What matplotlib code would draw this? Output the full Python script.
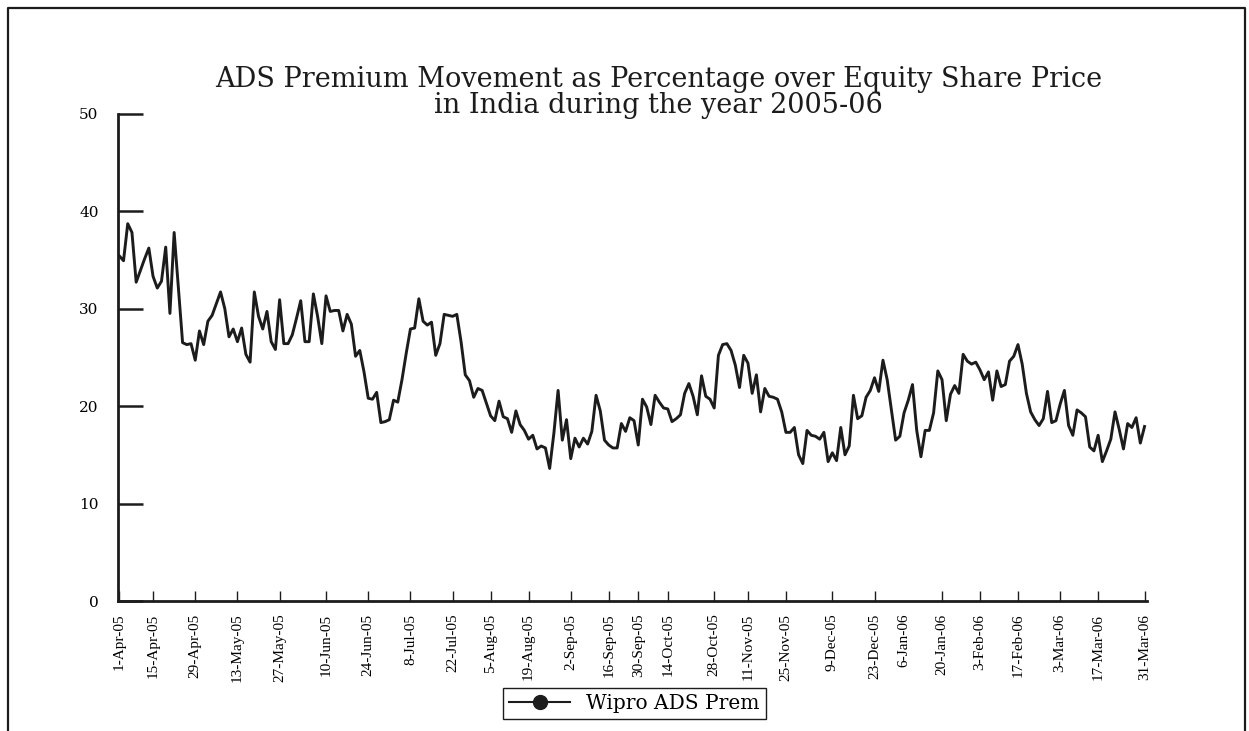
import numpy as np
import matplotlib
matplotlib.use("Agg")
import matplotlib.pyplot as plt
from matplotlib.lines import Line2D

# Wipro ADS premium (%) over the equity share price, one value per trading day
premium = [
    35.4, 34.9, 38.7, 37.8, 32.7, 33.9, 35.1, 36.2, 33.3, 32.1,
    32.8, 36.3, 29.5, 37.8, 32.2, 26.5, 26.3, 26.4, 24.7, 27.7,
    26.3, 28.7, 29.3, 30.5, 31.7, 30.0, 27.1, 27.9, 26.6, 28.0,
    25.3, 24.5, 31.7, 29.2, 27.9, 29.7, 26.6, 25.8, 30.9, 26.4,
    26.4, 27.3, 29.0, 30.8, 26.6, 26.6, 31.5, 29.2, 26.4, 31.3,
    29.7, 29.8, 29.8, 27.7, 29.4, 28.4, 25.1, 25.7, 23.5, 20.8,
    20.7, 21.4, 18.3, 18.4, 18.6, 20.6, 20.4, 22.7, 25.4, 27.9,
    28.0, 31.0, 28.7, 28.3, 28.6, 25.2, 26.4, 29.4, 29.3, 29.2,
    29.4, 26.6, 23.2, 22.6, 20.9, 21.8, 21.6, 20.3, 19.0, 18.5,
    20.5, 18.9, 18.7, 17.3, 19.5, 18.1, 17.5, 16.6, 17.0, 15.6,
    15.9, 15.7, 13.6, 17.2, 21.6, 16.5, 18.6, 14.6, 16.7, 15.8,
    16.7, 16.1, 17.4, 21.1, 19.5, 16.5, 16.0, 15.7, 15.7, 18.2,
    17.4, 18.8, 18.5, 16.0, 20.7, 19.9, 18.1, 21.1, 20.4, 19.8,
    19.7, 18.4, 18.7, 19.1, 21.3, 22.3, 21.0, 19.1, 23.1, 21.0,
    20.7, 19.8, 25.2, 26.3, 26.4, 25.7, 24.2, 21.9, 25.2, 24.4,
    21.3, 23.2, 19.4, 21.8, 21.0, 20.9, 20.7, 19.4, 17.3, 17.3,
    17.8, 15.0, 14.1, 17.5, 17.0, 16.9, 16.6, 17.3, 14.3, 15.2,
    14.4, 17.8, 15.0, 15.9, 21.1, 18.7, 19.0, 20.9, 21.6, 22.9,
    21.5, 24.7, 22.7, 19.6, 16.5, 16.9, 19.3, 20.6, 22.2, 17.5,
    14.8, 17.5, 17.5, 19.3, 23.6, 22.7, 18.5, 21.2, 22.1, 21.3,
    25.3, 24.6, 24.3, 24.5, 23.7, 22.7, 23.5, 20.6, 23.6, 22.0,
    22.2, 24.6, 25.1, 26.3, 24.3, 21.3, 19.4, 18.6, 18.0, 18.7,
    21.5, 18.3, 18.5, 20.2, 21.6, 18.0, 17.0, 19.6, 19.3, 18.9,
    15.8, 15.4, 17.0, 14.3, 15.4, 16.6, 19.4, 17.6, 15.6, 18.2,
    17.8, 18.8, 16.2, 17.9,
]
day = np.arange(len(premium))

# date labels and the trading-day index they sit on
tick_days = [0, 8, 18, 28, 38, 49, 59, 69, 79, 88, 97, 107, 116, 123,
             130, 141, 149, 158, 169, 179, 186, 195, 204, 213, 223, 232, 243]
tick_labels = ['1-Apr-05', '15-Apr-05', '29-Apr-05', '13-May-05', '27-May-05',
               '10-Jun-05', '24-Jun-05', '8-Jul-05', '22-Jul-05', '5-Aug-05',
               '19-Aug-05', '2-Sep-05', '16-Sep-05', '30-Sep-05', '14-Oct-05',
               '28-Oct-05', '11-Nov-05', '25-Nov-05', '9-Dec-05', '23-Dec-05',
               '6-Jan-06', '20-Jan-06', '3-Feb-06', '17-Feb-06', '3-Mar-06',
               '17-Mar-06', '31-Mar-06']
y_ticks = [0, 10, 20, 30, 40, 50]

title_font = 'DejaVu Serif'
label_font = 'Liberation Serif'
ink = '#1c1c1c'

fig = plt.figure(figsize=(12.49, 7.31), dpi=100)
ax = fig.add_axes([0.0945, 0.1778, 0.8239, 0.6669])

ax.plot(day, premium, color=ink, lw=2.1, label='Wipro ADS Prem')

ax.set_xlim(-0.3, 243.6)
ax.set_ylim(0, 50)

ax.set_xticks(tick_days)
ax.set_xticklabels(tick_labels, rotation=90, fontfamily=label_font, fontsize=11)
ax.set_yticks(y_ticks)
ax.set_yticklabels([str(v) for v in y_ticks], fontfamily=title_font, fontsize=11)

ax.tick_params(axis='x', direction='in', length=7, width=1.0, color=ink, pad=9)
ax.tick_params(axis='y', direction='in', length=18, width=1.8, color=ink, pad=14)
# no tick mark drawn for 6-Jan-06 in the original
ax.xaxis.get_major_ticks()[20].tick1line.set_visible(False)

for side in ['top', 'right']:
    ax.spines[side].set_visible(False)
for side in ['left', 'bottom']:
    ax.spines[side].set_linewidth(2.0)
    ax.spines[side].set_color(ink)

fig.text(0.527, 0.874,
         'ADS Premium Movement as Percentage over Equity Share Price\nin India during the year 2005-06',
         ha='center', va='center', fontfamily=title_font, fontsize=19.5,
         linespacing=0.95, color=ink)

leg_handle = Line2D([], [], color=ink, lw=1.5, marker='o', markersize=10)
leg = fig.legend([leg_handle], ['Wipro ADS Prem'], loc='center',
                 bbox_to_anchor=(0.508, 0.037), fancybox=False,
                 edgecolor=ink, framealpha=1, handlelength=3,
                 prop={'family': title_font, 'size': 14.5},
                 borderpad=0.3, handletextpad=0.8)
leg.get_frame().set_linewidth(1.0)

# outer frame of the page
x0, x1, top = 8 / 1249, 1245 / 1249, 1 - 8 / 731
fig.add_artist(Line2D([x0, x0, x1, x1], [-0.05, top, top, -0.05],
                      transform=fig.transFigure, color=ink, lw=1.6))

plt.savefig('out.png', dpi=100)
